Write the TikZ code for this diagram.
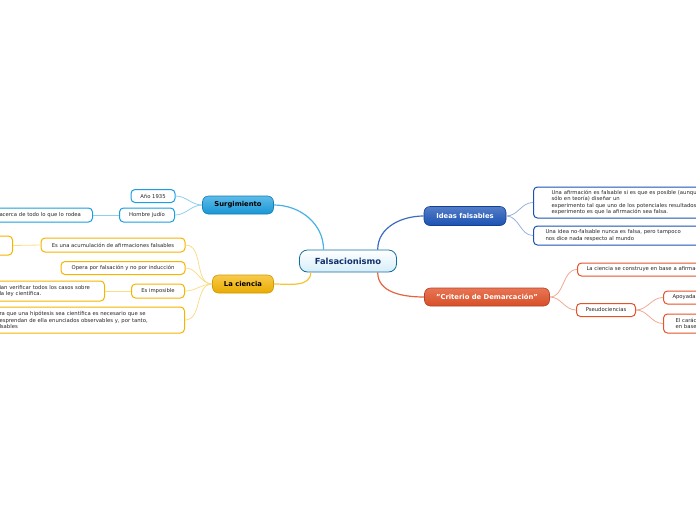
\documentclass[tikz,border=0pt]{standalone}
\usepackage{fontspec}
\setmainfont{DejaVu Sans}
\definecolor{azulc}{HTML}{1A9EE0}
\definecolor{azulo}{HTML}{1A52B4}
\definecolor{naranja}{HTML}{F5B400}
\definecolor{rojizo}{HTML}{E2532A}
\begin{document}
\begin{tikzpicture}[x=1pt,y=1pt,
	hoja/.style={draw,fill=white,rounded corners=4pt,line width=1pt,inner sep=0pt,
		font=\fontsize{5.3}{6.2}\selectfont,align=left,text=black!85},
	rama/.style={rounded corners=6pt,inner sep=0pt,line width=0.6pt,
		font=\fontsize{6.8}{7.5}\selectfont\bfseries},
	enlace/.style={line width=0.8pt}]
	\useasboundingbox (0,-520) rectangle (696,0);
	\clip (0,-520) rectangle (696,0);

	% centro
	\node[draw=azulc!70!black,rounded corners=8pt,line width=0.8pt,top color=white,bottom color=azulc!18,
		minimum width=97,minimum height=22,font=\fontsize{8.4}{9}\selectfont\bfseries,text=azulo!60!black] (falsa) at (348,-261) {Falsacionismo};

	% ramas
	\node[rama,draw=azulc!80!black,top color=azulc!70,bottom color=azulc!95!black,minimum width=71,minimum height=18] (surg) at (238,-205) {Surgimiento};
	\node[rama,draw=naranja!85!black,top color=naranja!70,bottom color=naranja!95!black,minimum width=61,minimum height=18] (cien) at (243,-284) {La ciencia};
	\node[rama,draw=azulo!80!black,top color=azulo!75,bottom color=azulo,text=white,minimum width=82,minimum height=19] (ideas) at (465,-216) {Ideas falsables};
	\node[rama,draw=rojizo!80!black,top color=rojizo!80,bottom color=rojizo!95!black,text=white,minimum width=125,minimum height=18] (crit) at (487,-297) {"Criterio de Demarcación"};

	\draw[enlace,azulc!80,line width=1.2pt] (surg.east) to[out=0,in=90] (falsa.155);
	\draw[enlace,naranja!80,line width=1.2pt] (cien.east) to[out=0,in=-90] (falsa.197);
	\draw[enlace,azulo!85,line width=1.2pt] (falsa.21) to[out=90,in=180] (ideas.west);
	\draw[enlace,rojizo!90,line width=1.2pt] (falsa.-21) to[out=-90,in=180] (crit.west);

	% Surgimiento
	\node[hoja,draw=azulc,minimum width=44,minimum height=13] (ano) at (153,-196) {Año 1935};
	\node[hoja,draw=azulc,minimum width=55,minimum height=14] (judio) at (147,-215) {Hombre judío};
	\node[hoja,draw=azulc,anchor=east,text width=84,inner xsep=9,minimum height=14] (rodea) at (93,-215) {acerca de todo lo que lo rodea};
	\draw[enlace,azulc!50] (surg.west) to[out=180,in=0] (ano.east);
	\draw[enlace,azulc!50] (surg.west) to[out=180,in=0] (judio.east);
	\draw[enlace,azulc!50] (judio.west) -- (rodea.east);

	% La ciencia
	\node[hoja,draw=naranja,minimum width=144,minimum height=14] (acum) at (113,-245) {Es una acumulación de afirmaciones falsables};
	\node[hoja,draw=naranja,anchor=east,minimum width=40,minimum height=19] (acumb) at (13,-245.5) {};
	\node[hoja,draw=naranja,minimum width=124,minimum height=13] (opera) at (123,-268) {Opera por falsación y no por inducción};
	\node[hoja,draw=naranja,minimum width=53,minimum height=14] (impos) at (158,-291) {Es imposible};
	\node[hoja,draw=naranja,anchor=east,text width=93,inner xsep=12,minimum height=20] (verif) at (105,-291)
		{ian verificar todos los casos sobre\\la ley científica.};
	\node[hoja,draw=naranja,anchor=east,text width=175,inner xsep=10,minimum height=26] (hipot) at (185,-320)
		{ra que una hipótesis sea científica es necesario que se\\esprendan de ella enunciados observables y, por tanto,\\lsables};
	\draw[enlace,naranja!45] (cien.west) to[out=180,in=0] (acum.east);
	\draw[enlace,naranja!45] (cien.west) to[out=180,in=0] (opera.east);
	\draw[enlace,naranja!45] (cien.west) to[out=180,in=0] (impos.east);
	\draw[enlace,naranja!45] (cien.west) to[out=180,in=0] (hipot.east);
	\draw[enlace,naranja!45] (acum.west) -- (acumb.east);
	\draw[enlace,naranja!45] (impos.west) -- (verif.east);

	% Ideas falsables
	\node[hoja,draw=azulo,anchor=west,text width=200,inner xsep=18,minimum height=31] (afir) at (533,-202.5)
		{Una afirmación es falsable si es que es posible (aunque\\sólo en teoría) diseñar un\\experimento tal que uno de los potenciales resultados\\experimento es que la afirmación sea falsa.};
	\node[hoja,draw=azulo,anchor=west,text width=145,inner xsep=12,minimum height=19] (nofal) at (533,-235.5)
		{Una idea no-falsable nunca es falsa, pero tampoco\\ nos dice nada respecto al mundo};
	\draw[enlace,azulo!45] (ideas.east) to[out=0,in=180] (afir.west);
	\draw[enlace,azulo!45] (ideas.east) to[out=0,in=180] (nofal.west);

	% Criterio de Demarcacion
	\node[hoja,draw=rojizo,anchor=west,text width=160,inner xsep=9,minimum height=13] (base) at (577,-269.5)
		{La ciencia se construye en base a afirmaciones};
	\node[hoja,draw=rojizo,minimum width=59,minimum height=13] (pseudo) at (606,-310) {Pseudociencias};
	\node[hoja,draw=rojizo,anchor=west,text width=50,inner xsep=9,minimum height=13] (apoy) at (663,-297.5) {Apoyada};
	\node[hoja,draw=rojizo,anchor=west,text width=50,inner xsep=12,minimum height=19] (carac) at (663,-323.5) {El carác\\en base};
	\draw[enlace,rojizo!50] (crit.east) to[out=0,in=180] (base.west);
	\draw[enlace,rojizo!50] (crit.east) to[out=0,in=180] (pseudo.west);
	\draw[enlace,rojizo!50] (pseudo.east) to[out=0,in=180] (apoy.west);
	\draw[enlace,rojizo!50] (pseudo.east) to[out=0,in=180] (carac.west);
\end{tikzpicture}
\end{document}
